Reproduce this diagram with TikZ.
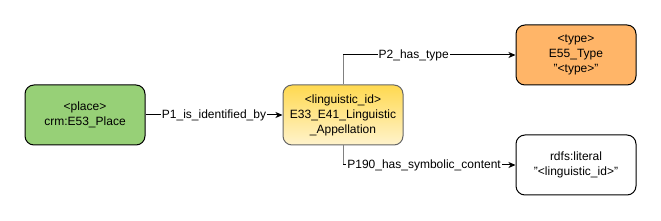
\documentclass[tikz,border=0pt]{standalone}
\usepackage{fontspec}
\setmainfont{Liberation Sans}
\usetikzlibrary{arrows.meta}
\definecolor{placegreen}{RGB}{151,208,119}
\definecolor{typeorange}{RGB}{255,181,104}
\definecolor{lingtop}{RGB}{255,217,80}
\definecolor{lingbot}{RGB}{255,243,204}
\definecolor{vgray}{RGB}{128,128,128}
\begin{document}
\begin{tikzpicture}[x=1pt,y=-1pt,
  font=\fontsize{12}{15}\selectfont,
  entity/.style={draw=black,line width=1pt,rounded corners=9pt,minimum width=120pt,minimum height=60pt,inner sep=0pt,align=center},
  prop/.style={line width=1pt,-{Stealth[length=7pt,width=6pt,inset=2pt]}},
  proplabel/.style={fill=white,inner sep=1pt}]
\useasboundingbox (0,0) rectangle (661,221);
\node[entity,fill=placegreen] (place) at (85,115) {<place>\\crm:E53\_Place};
\node[entity,draw=black!60,top color=lingtop,bottom color=lingbot] (ling) at (343,115) {<linguistic\_id>\\E33\_E41\_Linguistic\\\_Appellation};
\node[entity,fill=typeorange] (type) at (576,55) {<type>\\E55\_Type\\"<type>"};
\node[entity,fill=white] (literal) at (576,165) {rdfs:literal\\"<linguistic\_id>"};
\coordinate (bendtype) at (ling.north |- type.west);
\coordinate (bendlit) at (ling.south |- literal.west);
% edges
\draw[prop] (place) -- node[proplabel] {P1\_is\_identified\_by} (ling);
\draw[vgray,line width=1pt] (ling.north) -- (bendtype);
\draw[prop] (bendtype) -- node[proplabel,pos=0.41] {P2\_has\_type} (type.west);
\draw[vgray,line width=1pt] (ling.south) -- (bendlit);
\draw[prop] (bendlit) -- node[proplabel,pos=0.47] {P190\_has\_symbolic\_content} (literal.west);
\end{tikzpicture}
\end{document}
